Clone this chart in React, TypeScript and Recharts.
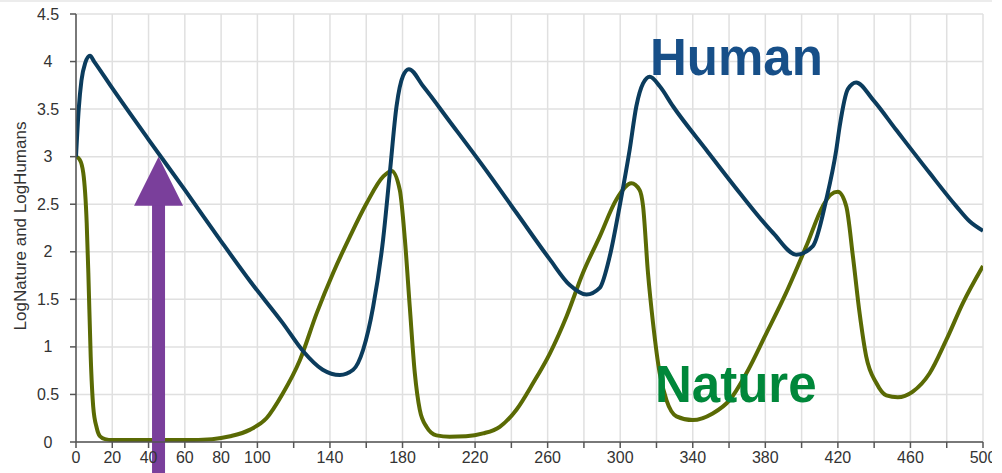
import React from "react";
import {
  LineChart,
  Line,
  XAxis,
  YAxis,
  CartesianGrid,
  ReferenceLine,
  ReferenceDot,
} from "recharts";

// time steps (x) and log values
const HUMAN_T = [
  0, 1.5, 3, 5, 7.7, 10, 20, 40, 60, 80, 96, 114, 125, 136, 145.5, 152.8, 158.3,
  163.8, 169.3, 173, 176.7, 180.3, 183.5, 191.4, 206, 224.4, 242.8, 261.2, 272.2,
  281.4, 288.7, 294.2, 299.7, 305.2, 308.9, 312.6, 316.3, 321.8, 329.1, 347.5,
  365.8, 384.2, 397.1, 406.2, 413.6, 419.1, 421, 425.5, 430.1, 439.3, 452.2,
  470.5, 485.2, 492.6, 500,
];
const HUMAN_V = [
  3.0, 3.5, 3.8, 3.98, 4.06, 4.0, 3.72, 3.18, 2.65, 2.11, 1.69, 1.25, 0.96, 0.76,
  0.705, 0.76, 0.97, 1.42, 2.13, 2.83, 3.53, 3.85, 3.92, 3.74, 3.37, 2.9, 2.41,
  1.92, 1.65, 1.55, 1.62, 1.95, 2.48, 3.07, 3.53, 3.77, 3.84, 3.74, 3.53, 3.07,
  2.62, 2.2, 1.97, 2.06, 2.55, 3.07, 3.32, 3.71, 3.78, 3.6, 3.28, 2.83, 2.48,
  2.32, 2.22,
];

const NATURE_T = [
  0, 2, 4, 5.9, 6.8, 8.1, 9.5, 11.4, 13.2, 16, 20, 40, 60, 75, 85, 96, 105, 114,
  123.4, 132.6, 141.8, 151, 160.2, 169.3, 174, 178.5, 181.3, 184, 186.8, 189.5,
  193.2, 198.7, 206, 215, 224.4, 233.6, 242.8, 252, 261.2, 270.4, 279.5, 288.7,
  297.9, 306.2, 310.7, 312.6, 315.3, 318.1, 321.8, 325.5, 331, 340, 351, 360.3,
  369.5, 380.5, 391.5, 402.6, 411.7, 416, 420, 424.6, 428.3, 432, 435.6, 441.2,
  446.7, 453, 461.3, 470.5, 479.7, 488.9, 500,
];
const NATURE_V = [
  3.0, 2.97, 2.83, 2.3, 1.78, 0.9, 0.37, 0.15, 0.06, 0.03, 0.02, 0.02, 0.02,
  0.03, 0.06, 0.13, 0.25, 0.51, 0.86, 1.35, 1.78, 2.16, 2.51, 2.79, 2.85, 2.65,
  2.13, 1.42, 0.72, 0.34, 0.16, 0.07, 0.055, 0.06, 0.09, 0.16, 0.34, 0.62, 0.93,
  1.32, 1.78, 2.16, 2.55, 2.72, 2.65, 2.48, 1.78, 1.25, 0.72, 0.44, 0.27, 0.23,
  0.3, 0.44, 0.72, 1.14, 1.57, 2.06, 2.48, 2.6, 2.63, 2.48, 1.95, 1.35, 0.9,
  0.62, 0.49, 0.47, 0.53, 0.72, 1.07, 1.46, 1.85,
];

const X_TICKS = Array.from({ length: 26 }, (_, i) => i * 20);
const X_LABELS = [0, 20, 40, 60, 80, 100, 140, 180, 220, 260, 300, 340, 380, 420, 460, 500];
const Y_TICKS = [0, 0.5, 1, 1.5, 2, 2.5, 3, 3.5, 4, 4.5];

// arrow marker position (time, value of the tip)
const ARROW_T = 45.5;
const ARROW_TIP = 3.0;

const humanData = HUMAN_T.map((t, i) => ({ t, v: HUMAN_V[i] }));
const natureData = NATURE_T.map((t, i) => ({ t, v: NATURE_V[i] }));

const FONT = "'Liberation Sans', Arial, Helvetica, sans-serif";
const PURPLE = "#7a3f9b";

const YTick = (props: any) => {
  const { x, y, payload } = props;
  return (
    <text x={x - 20} y={y} dy={5.5} textAnchor="middle" fill="#333" fontSize={16} fontFamily={FONT}>
      {payload.value}
    </text>
  );
};

const YLabel = (props: any) => {
  const { viewBox } = props;
  const cx = viewBox.x + 26;
  const cy = viewBox.y + viewBox.height / 2 - 2;
  return (
    <text
      x={cx}
      y={cy}
      transform={`rotate(-90 ${cx} ${cy})`}
      textAnchor="middle"
      fill="#333"
      fontSize={17}
      fontFamily={FONT}
    >
      LogNature and LogHumans
    </text>
  );
};

const ArrowHead = (props: any) => {
  const { cx, cy } = props;
  return (
    <polygon
      points={`${cx},${cy} ${cx - 24.5},${cy + 49} ${cx + 24.5},${cy + 49}`}
      fill={PURPLE}
    />
  );
};

export default function App() {
  return (
    <div
      style={{
        position: "fixed",
        left: 0,
        top: 0,
        width: 1002,
        height: 473,
        background: "#fff",
        overflow: "hidden",
      }}
    >
      <div style={{ position: "absolute", left: 0, top: 0, width: 992, height: 2, background: "#ececec" }} />
      <LineChart
        width={992}
        height={473}
        margin={{ top: 14, right: 9, bottom: 0, left: 0 }}
      >
        <CartesianGrid stroke="#e0e0e0" strokeWidth={1.5} />
        <XAxis
          dataKey="t"
          type="number"
          domain={[0, 500]}
          ticks={X_TICKS}
          interval={0}
          height={31}
          tickSize={6}
          tickMargin={4}
          axisLine={{ stroke: "#555", strokeWidth: 1.5 }}
          tickLine={{ stroke: "#555", strokeWidth: 1.5 }}
          tick={{ fill: "#333", fontSize: 16, fontFamily: FONT }}
          tickFormatter={(v: number) => (X_LABELS.includes(v) ? String(v) : "")}
          allowDataOverflow
        />
        <YAxis
          type="number"
          domain={[0, 4.5]}
          ticks={Y_TICKS}
          interval={0}
          width={76}
          tickSize={6}
          axisLine={{ stroke: "#555", strokeWidth: 1.5 }}
          tickLine={{ stroke: "#555", strokeWidth: 1.5 }}
          tick={<YTick />}
          label={<YLabel />}
          allowDataOverflow
        />
        <Line
          data={natureData}
          dataKey="v"
          type="monotone"
          stroke="#5a6a04"
          strokeWidth={4}
          dot={false}
          isAnimationActive={false}
        />
        <Line
          data={humanData}
          dataKey="v"
          type="monotone"
          stroke="#0b3c5d"
          strokeWidth={4}
          dot={false}
          isAnimationActive={false}
        />
        <ReferenceLine
          segment={[
            { x: ARROW_T, y: -0.4 },
            { x: ARROW_T, y: ARROW_TIP - 0.4 },
          ]}
          stroke={PURPLE}
          strokeWidth={13}
          ifOverflow="visible"
        />
        <ReferenceDot x={ARROW_T} y={ARROW_TIP} shape={<ArrowHead />} ifOverflow="visible" />
      </LineChart>
      <svg
        width={1002}
        height={473}
        style={{ position: "absolute", left: 0, top: 0, pointerEvents: "none" }}
      >
        <text x={650} y={75} fill="#174f88" fontSize={51} fontWeight="bold" fontFamily={FONT}>
          Human
        </text>
        <text x={655} y={402} fill="#00873a" fontSize={51} fontWeight="bold" fontFamily={FONT}>
          Nature
        </text>
      </svg>
    </div>
  );
}
